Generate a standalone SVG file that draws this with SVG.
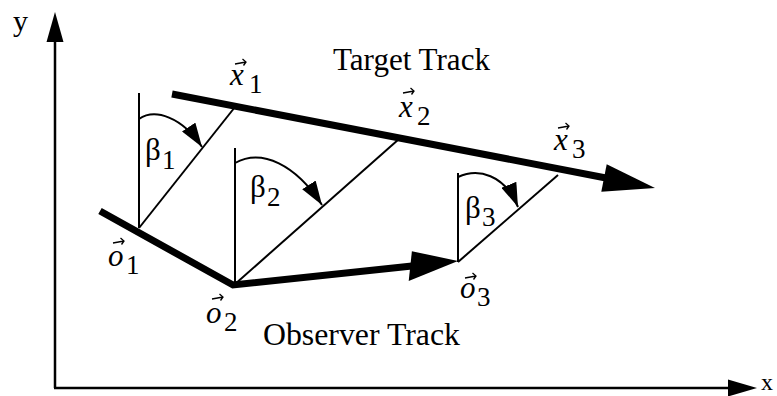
<svg xmlns="http://www.w3.org/2000/svg" width="777" height="396" viewBox="0 0 777 396">
<style>
.thin{stroke:#000;stroke-width:2;fill:none}
.axis{stroke:#000;stroke-width:2.5;fill:none}
.track{stroke:#000;stroke-width:7;fill:none;stroke-linejoin:miter;stroke-miterlimit:10}
.head{fill:#000;stroke:none}
.vec{stroke:#000;stroke-width:1.3;fill:none}
.lbl{font-family:"Liberation Serif","Times New Roman",serif;fill:#000}
.it{font-style:italic;font-size:31px}
.sub{font-size:27px}
.beta{font-size:31px}
.title{font-size:31px}
</style>
<defs>
<marker id="arcHead" markerUnits="userSpaceOnUse" markerWidth="24" markerHeight="16" viewBox="0 0 24 16" refX="24" refY="8" orient="auto">
<path d="M0,0 L24,8 L0,16 z" fill="#000"/>
</marker>
</defs>

<g id="axes">
<line class="axis" x1="55" y1="388" x2="55" y2="40"/>
<polygon class="head" points="55,12 63.5,42 46.5,42"/>
<line class="axis" x1="54" y1="388" x2="730" y2="388"/>
<polygon class="head" points="757,388 728,379.5 728,396.5"/>
<text class="lbl" x="13" y="31" font-size="30">y</text>
<text class="lbl" x="761" y="390" font-size="24">x</text>
</g>

<g id="target-track">
<path class="track" d="M172,94 L606,178"/>
<polygon class="head" points="655,188 606.7,164.3 601.3,191.7"/>
<text class="lbl title" x="333" y="70" textLength="157" lengthAdjust="spacingAndGlyphs">Target Track</text>
</g>

<g id="observer-track">
<path class="track" d="M100,211 L233,285 L412,266"/>
<polygon class="head" points="458,261 411.9,251.2 408.7,281"/>
<text class="lbl title" x="263" y="345" textLength="197" lengthAdjust="spacingAndGlyphs">Observer Track</text>
</g>

<g id="connectors">
<line class="thin" x1="139" y1="228" x2="235" y2="107"/>
<line class="thin" x1="139" y1="228" x2="139" y2="93"/>
<line class="thin" x1="234" y1="285" x2="399" y2="139"/>
<line class="thin" x1="235" y1="285" x2="235" y2="148"/>
<line class="thin" x1="458" y1="262" x2="558" y2="175"/>
<line class="thin" x1="458" y1="262" x2="458" y2="173"/>
<path class="thin" d="M139,119 C155,108 182,117 202,147" marker-end="url(#arcHead)"/>
<path class="thin" d="M235,163 C262,148 296,165 322,205" marker-end="url(#arcHead)"/>
<path class="thin" d="M458,177 C478,168 504.5,174 518,207" marker-end="url(#arcHead)"/>
</g>

<g id="x1">
<path class="vec" d="M235,64 L246,62 M242.5,59 L246,62 L243.5,65.5"/>
<text class="lbl it" x="230" y="85">x</text>
<text class="lbl sub" x="249" y="93">1</text>
</g>
<g id="x2">
<path class="vec" d="M403,93 L414,91 M410.5,88 L414,91 L411.5,94.5"/>
<text class="lbl it" x="399" y="117">x</text>
<text class="lbl sub" x="417" y="125">2</text>
</g>
<g id="x3">
<path class="vec" d="M558,128 L569,126 M565.5,123 L569,126 L566.5,129.5"/>
<text class="lbl it" x="554" y="150">x</text>
<text class="lbl sub" x="572" y="158">3</text>
</g>
<g id="o1">
<path class="vec" d="M113,243 L124,241 M120.5,238 L124,241 L121.5,244.5"/>
<text class="lbl it" x="108" y="266">o</text>
<text class="lbl sub" x="126" y="274">1</text>
</g>
<g id="o2">
<path class="vec" d="M212,299 L223,297 M219.5,294 L223,297 L220.5,300.5"/>
<text class="lbl it" x="206" y="323">o</text>
<text class="lbl sub" x="224" y="331">2</text>
</g>
<g id="o3">
<path class="vec" d="M465,278 L476,276 M472.5,273 L476,276 L473.5,279.5"/>
<text class="lbl it" x="460" y="298">o</text>
<text class="lbl sub" x="477" y="306">3</text>
</g>
<g id="beta1">
<text class="lbl beta" x="145" y="160">β</text>
<text class="lbl sub" x="162" y="169">1</text>
</g>
<g id="beta2">
<text class="lbl beta" x="250" y="197">β</text>
<text class="lbl sub" x="267" y="206">2</text>
</g>
<g id="beta3">
<text class="lbl beta" x="465" y="218">β</text>
<text class="lbl sub" x="482" y="226">3</text>
</g>
</svg>
